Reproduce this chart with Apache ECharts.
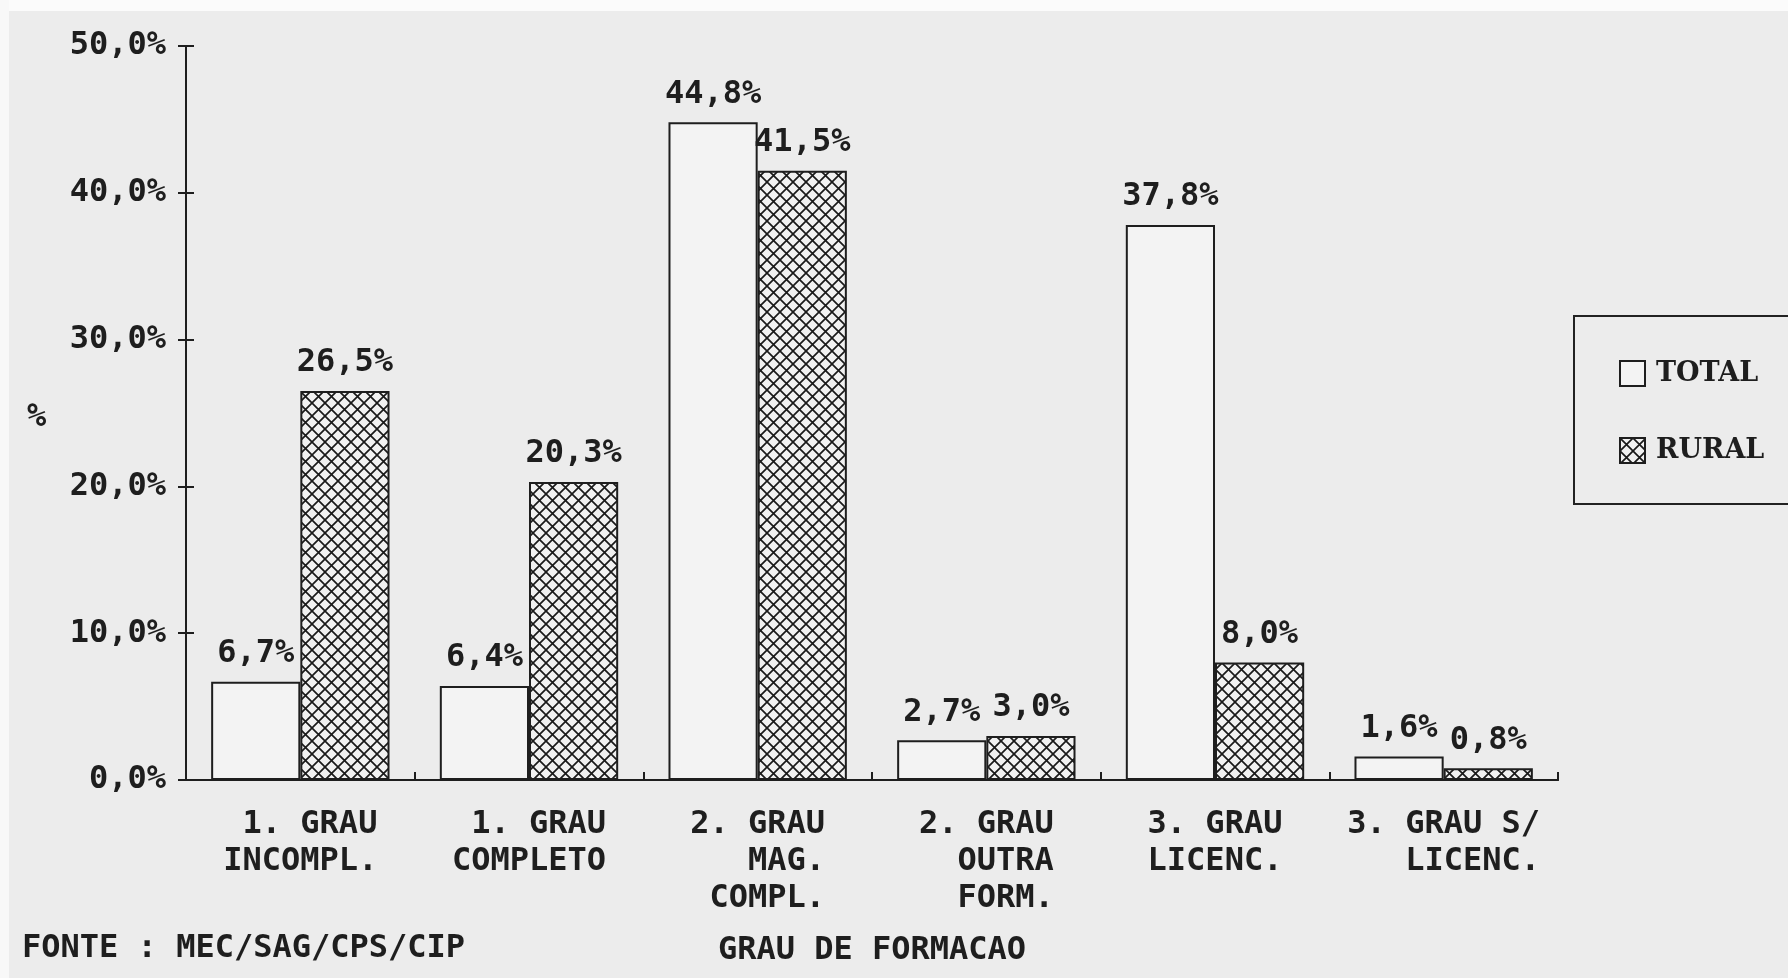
<!DOCTYPE html>
<html>
<head>
<meta charset="utf-8">
<title>Grau de formacao</title>
<script src="https://cdn.jsdelivr.net/npm/echarts@6/dist/echarts.min.js"></script>
<style>
  html, body { margin: 0; padding: 0; background: #ececec; }
  #chart { width: 1788px; height: 978px; }
</style>
</head>
<body>
<div id="chart"></div>
<script>
// data
const categories = [
  ['1. GRAU', 'INCOMPL.'],
  ['1. GRAU', 'COMPLETO'],
  ['2. GRAU', 'MAG.', 'COMPL.'],
  ['2. GRAU', 'OUTRA', 'FORM.'],
  ['3. GRAU', 'LICENC.'],
  ['3. GRAU S/', 'LICENC.']
]
const totalValues = [6.7, 6.4, 44.8, 2.7, 37.8, 1.6]
const ruralValues = [26.5, 20.3, 41.5, 3.0, 8.0, 0.8]
const yTicks = [0, 10, 20, 30, 40, 50]

const FONT = 'DejaVu Sans Mono'
const INK = '#1e1e1e'

// right-align lines inside a monospace block
function labelText(lines) {
  const w = Math.max(...lines.map(l => l.length))
  return lines.map(l => ' '.repeat(w - l.length) + l).join('\n')
}
const catNames = categories.map(labelText)

function pct(v) {
  return v.toFixed(1).replace('.', ',') + '%'
}

// cross hatch tile for the RURAL bars
function hatch() {
  const s = 13
  const c = document.createElement('canvas')
  c.width = s
  c.height = s
  const ctx = c.getContext('2d')
  ctx.fillStyle = '#f1f1f1'
  ctx.fillRect(0, 0, s, s)
  ctx.strokeStyle = '#1a1a1a'
  ctx.lineWidth = 1.7
  ctx.beginPath()
  ctx.moveTo(0, 0); ctx.lineTo(s, s)
  ctx.moveTo(s, 0); ctx.lineTo(0, s)
  ctx.stroke()
  return c
}

const chart = echarts.init(document.getElementById('chart'))

const baseLabel = {
  show: true,
  position: 'top',
  distance: 12,
  fontFamily: FONT,
  fontWeight: 'bold',
  fontSize: 32,
  color: INK,
  formatter: p => pct(p.value)
}

const tickStyle = { color: INK, width: 2 }

chart.setOption({
  backgroundColor: '#ececec',
  animation: false,
  graphic: [
    // pale scan margins
    { type: 'rect', left: 0, top: 0, shape: { width: 1788, height: 11 }, style: { fill: '#fbfbfb' } },
    { type: 'rect', left: 0, top: 0, shape: { width: 9, height: 978 }, style: { fill: '#f8f8f8' } },
    // y axis unit
    {
      type: 'text',
      left: 27,
      top: 402,
      style: { text: '%', fontFamily: FONT, fontWeight: 'bold', fontSize: 32, fill: INK }
    }
  ],
  title: {
    text: 'FONTE : MEC/SAG/CPS/CIP',
    left: 22,
    top: 933,
    padding: 0,
    textStyle: { fontFamily: FONT, fontWeight: 'bold', fontSize: 32, color: INK }
  },
  legend: {
    orient: 'vertical',
    left: 1574,
    top: 316,
    padding: [44, 80, 40, 45],
    itemGap: 50,
    itemWidth: 25,
    itemHeight: 25,
    icon: 'rect',
    borderColor: '#222',
    borderWidth: 2,
    textStyle: {
      fontFamily: 'DejaVu Serif',
      fontWeight: 'bold',
      fontSize: 27,
      color: INK,
      padding: [0, 0, 0, 6]
    },
    data: ['TOTAL', 'RURAL']
  },
  grid: { left: 186, right: 230, top: 46, bottom: 198 },
  xAxis: [
    {
      type: 'category',
      data: catNames,
      position: 'bottom',
      name: 'GRAU DE FORMACAO',
      nameLocation: 'middle',
      nameGap: 155,
      nameTextStyle: { fontFamily: FONT, fontWeight: 'bold', fontSize: 32, color: INK },
      axisLine: { lineStyle: tickStyle },
      axisTick: { length: 8, lineStyle: tickStyle },
      axisLabel: {
        margin: 26,
        fontFamily: FONT,
        fontWeight: 'bold',
        fontSize: 32,
        lineHeight: 37,
        color: INK,
        interval: 0
      }
    },
    {
      // second copy only for the inner half of the crossing ticks
      type: 'category',
      data: catNames,
      position: 'bottom',
      axisLine: { show: true, lineStyle: tickStyle },
      axisTick: { show: true, inside: true, length: 8, lineStyle: tickStyle },
      axisLabel: { show: false }
    }
  ],
  yAxis: [
    {
      type: 'value',
      min: 0,
      max: 50,
      interval: 10,
      axisLine: { show: true, lineStyle: tickStyle },
      axisTick: { show: true, length: 8, lineStyle: tickStyle },
      splitLine: { show: false },
      axisLabel: {
        margin: 20,
        fontFamily: FONT,
        fontWeight: 'bold',
        fontSize: 32,
        color: INK,
        customValues: yTicks,
        formatter: v => pct(v)
      }
    },
    {
      type: 'value',
      min: 0,
      max: 50,
      interval: 10,
      position: 'left',
      axisLine: { show: true, lineStyle: tickStyle },
      axisTick: { show: true, inside: true, length: 8, lineStyle: tickStyle },
      splitLine: { show: false },
      axisLabel: { show: false }
    }
  ],
  series: [
    {
      name: 'TOTAL',
      type: 'bar',
      data: totalValues,
      barGap: '0%',
      barCategoryGap: '22%',
      itemStyle: { color: '#f3f3f3', borderColor: INK, borderWidth: 2 },
      label: baseLabel
    },
    {
      name: 'RURAL',
      type: 'bar',
      data: ruralValues,
      barGap: '0%',
      barCategoryGap: '22%',
      itemStyle: {
        color: { image: hatch(), repeat: 'repeat' },
        borderColor: INK,
        borderWidth: 2
      },
      label: baseLabel
    }
  ]
})
</script>
</body>
</html>
